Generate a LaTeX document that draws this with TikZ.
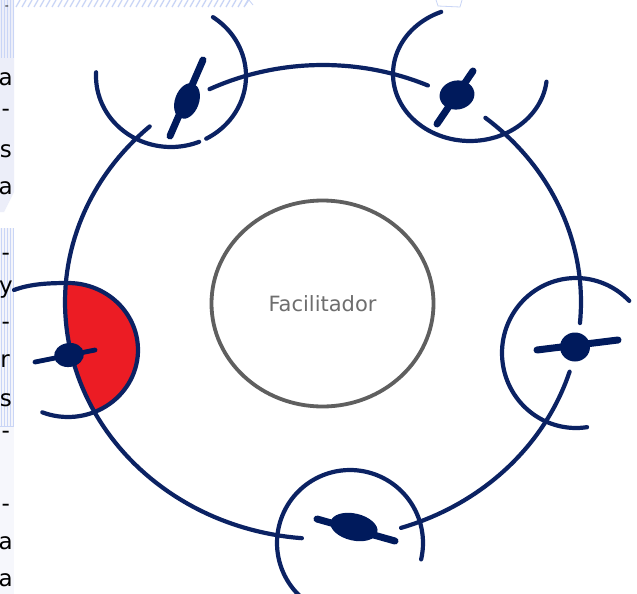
\documentclass[tikz,border=0pt]{standalone}
\usepackage{fontspec}
\newfontfamily\dejavu{DejaVu Sans}
\usetikzlibrary{shapes.geometric}
\definecolor{navy}{HTML}{0B2263}
\definecolor{blobc}{HTML}{001A5C}
\definecolor{redf}{HTML}{EC1C24}
\definecolor{fgray}{HTML}{5F5F5F}
\definecolor{tgray}{HTML}{6E6E6E}
\definecolor{lav}{HTML}{ECEEF9}
\definecolor{lblue}{HTML}{C9D5F6}
\begin{document}
\begin{tikzpicture}[x=1pt,y=-1pt,
 ring/.style={draw=navy, line width=4.2pt, line cap=round},
 stick/.style={draw=blobc, line width=7pt, line cap=round},
 blob/.style={ellipse, fill=blobc, inner sep=0pt, outer sep=0pt},
 letter/.style={anchor=east, inner sep=0pt, font=\fontsize{23}{26}\selectfont\dejavu, text=black},
 faci/.style={ellipse, draw=fgray, line width=3.8pt, inner sep=0pt, text=tgray, font=\fontsize{21}{24}\selectfont\dejavu}]
\useasboundingbox (0,0) rectangle (637,594);
\fill[white] (0,0) rectangle (637,594);
% left strip (neighbouring slide)
\fill[lav] (0,0) -- (14,0) -- (14,192) -- (4,212) -- (0,212) -- cycle;
\foreach \i in {1,4,7,10,13} \draw[lblue, line width=0.7pt] (\i,0) -- (\i,58);
\fill[lav!60] (0,228) rectangle (14,426);
\foreach \i in {1,4,7,10,13} \draw[lblue, line width=0.6pt] (\i,228) -- (\i,426);
\draw[lblue, line width=0.7pt] (0,426) -- (14,426);
\fill[lav!45] (0,427) rectangle (14,594);
\foreach \i in {16,22,...,244} \draw[lblue, line width=1.3pt] (\i,7) -- (\i+4,0);
\draw[lblue, line width=0.8pt] (245,6) -- (249,0) -- (253,5);
\draw[lblue, line width=0.8pt] (436,0) -- (438,6) -- (460,7) -- (462,0);
\node[letter, font=\fontsize{11}{12}\selectfont\dejavu] (l1) at (9,8) {-};
\node[letter] (l2) at (13,79) {a};
\node[letter] (l3) at (10,113) {-};
\node[letter] (l4) at (12,151) {s};
\node[letter] (l5) at (13,188) {a};
\node[letter] (l6) at (10,257) {-};
\node[letter] (l7) at (13,290) {y};
\node[letter] (l8) at (10,326) {-};
\node[letter] (l9) at (10,361) {r};
\node[letter] (l10) at (12,400) {s};
\node[letter] (l11) at (10,435) {-};
\node[letter] (l12) at (10,508) {-};
\node[letter] (l13) at (13,543) {a};
\node[letter] (l14) at (13,580) {a};
% red sector
\fill[redf] plot[variable=\t, domain=-92.5:66, samples=50] ({68+70*cos(\t)},{350+67*sin(\t)})
  -- plot[variable=\t, domain=152:185, samples=20] ({323+258*cos(\t)},{302+237*sin(\t)}) -- cycle;
% facilitator
\node[faci, minimum width=222pt, minimum height=206pt] (fac) at (322.5,303.5) {Facilitador};
% big ring
\draw[ring] plot[variable=\t, domain=243.9:294, samples=40] ({323+258*cos(\t)},{302+237*sin(\t)});
\draw[ring] plot[variable=\t, domain=309:365.1, samples=40] ({323+258*cos(\t)},{302+237*sin(\t)});
\draw[ring] plot[variable=\t, domain=17.1:72.4, samples=40] ({323+258*cos(\t)},{302+237*sin(\t)});
\draw[ring] plot[variable=\t, domain=94.7:227.8, samples=80] ({323+258*cos(\t)},{302+237*sin(\t)});
% station rings
\draw[ring] plot[variable=\t, domain=68:183, samples=50] ({171+75*cos(\t)},{76+71*sin(\t)});
\draw[ring] plot[variable=\t, domain=-56:62, samples=50] ({171+75*cos(\t)},{76+71*sin(\t)});
\draw[ring] plot[variable=\t, domain=6.6:248, samples=80] ({470+77*cos(\t)},{74+67*sin(\t)});
\draw[ring] plot[variable=\t, domain=81.4:316, samples=80] ({576+74*cos(\t)},{353+75*sin(\t)});
\draw[ring] plot[variable=\t, domain=-228:13, samples=80] ({350+73*cos(\t)},{543+73*sin(\t)});
\draw[ring] (14,290) .. controls (30,284) and (48,283) .. (68,283)
  -- plot[variable=\t, domain=-90:111.5, samples=60] ({68+70*cos(\t)},{350+67*sin(\t)});
% sticks
\coordinate (s1a) at (170,136); \coordinate (s1b) at (203,60);
\coordinate (s2a) at (437,124); \coordinate (s2b) at (473,71);
\coordinate (s3a) at (35,362);  \coordinate (s3b) at (95,350);
\coordinate (s4a) at (537,350); \coordinate (s4b) at (618,340);
\coordinate (s5a) at (317,519); \coordinate (s5b) at (395,541);
\draw[stick] (s1a) -- (s1b);
\draw[stick] (s2a) -- (s2b);
\draw[stick, line width=4.8pt] (s3a) -- (s3b);
\draw[stick] (s4a) -- (s4b);
\draw[stick] (s5a) -- (s5b);
% persons
\node[blob, minimum width=24pt, minimum height=37pt, rotate=-20] (p1) at (187,101) {};
\node[blob, minimum width=35pt, minimum height=29pt, rotate=10] (p2) at (457,95) {};
\node[blob, minimum width=30pt, minimum height=24pt, rotate=8] (p3) at (69,355) {};
\node[blob, minimum width=30pt, minimum height=29pt] (p4) at (575,347) {};
\node[blob, minimum width=48pt, minimum height=27pt, rotate=-13] (p5) at (354,527) {};
\end{tikzpicture}
\end{document}
